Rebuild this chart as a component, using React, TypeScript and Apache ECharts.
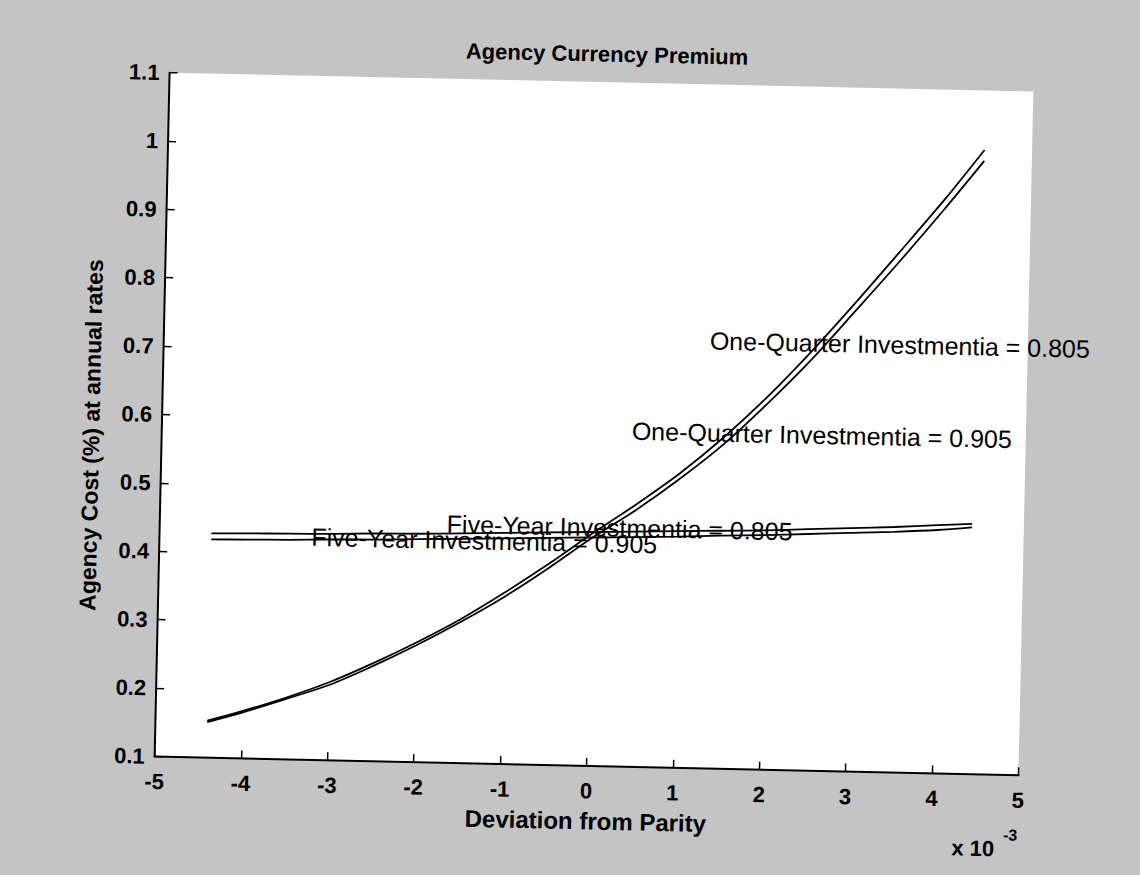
import React, { useEffect, useRef } from "react";
import * as echarts from "echarts";

// Deviation from parity (x 10^-3)
const quarterDeviation = [-4.4, -4, -3.5, -3, -2.5, -2, -1.5, -1, -0.5, 0, 0.5, 1, 1.5, 2, 2.5, 3, 3.5, 4, 4.45];
const fiveYearDeviation = [-4.4, -4, -3.5, -3, -2.5, -2, -1.5, -1, -0.5, 0, 0.5, 1, 1.5, 2, 2.5, 3, 3.5, 4, 4.4];

// Agency cost (%) at annual rates
const oneQuarter0805 = [0.154, 0.169, 0.19, 0.214, 0.243, 0.275, 0.31, 0.35, 0.393, 0.439, 0.483, 0.53, 0.584, 0.645, 0.713, 0.786, 0.862, 0.939, 1.013];
const oneQuarter0905 = [0.152, 0.167, 0.188, 0.21, 0.239, 0.271, 0.306, 0.344, 0.387, 0.433, 0.475, 0.522, 0.574, 0.635, 0.701, 0.774, 0.848, 0.925, 0.997];
const fiveYear0805 = [0.428, 0.429, 0.43, 0.431, 0.433, 0.434, 0.436, 0.438, 0.44, 0.442, 0.444, 0.446, 0.448, 0.45, 0.453, 0.456, 0.459, 0.463, 0.466];
const fiveYear0905 = [0.419, 0.42, 0.421, 0.423, 0.424, 0.426, 0.428, 0.43, 0.432, 0.434, 0.436, 0.438, 0.441, 0.443, 0.446, 0.449, 0.452, 0.456, 0.461];

const xTickValues = [-5, -4, -3, -2, -1, 0, 1, 2, 3, 4, 5];
const yTickValues = [0.1, 0.2, 0.3, 0.4, 0.5, 0.6, 0.7, 0.8, 0.9, 1, 1.1];

const chartTitle = "Agency Currency Premium";
const xAxisTitle = "Deviation from Parity";
const yAxisTitle = "Agency Cost (%) at annual rates";
const xMultiplierBase = "x 10";
const xMultiplierExp = "-3";
const curveLabels = [
  "One-Quarter Investmentia = 0.805",
  "One-Quarter Investmentia = 0.905",
  "Five-Year Investmentia = 0.805",
  "Five-Year Investmentia = 0.905",
];

export default function App() {
  const ref = useRef<HTMLDivElement>(null);

  useEffect(() => {
    if (!ref.current) return;
    const chart = echarts.init(ref.current, null, { renderer: "svg" });
    const font = "'Liberation Sans', Arial, Helvetica, sans-serif";
    const lineSeries = (name: string, xs: number[], ys: number[]) => ({
      name,
      type: "line",
      data: xs.map((x, i) => [x, ys[i]]),
      symbol: "none",
      showSymbol: false,
      smooth: 0.3,
      silent: true,
      lineStyle: { color: "#000", width: 1.8 },
      z: 3,
    });

    const labelPos = [
      [708, 338],
      [632, 430],
      [449, 527],
      [314, 543],
    ];

    chart.setOption({
      animation: false,
      backgroundColor: "#c4c4c4",
      title: {
        text: chartTitle,
        left: 594,
        top: 38,
        textAlign: "center",
        textStyle: { fontSize: 22, fontWeight: "bold", color: "#000", fontFamily: font },
      },
      grid: {
        left: 162,
        top: 82,
        width: 864,
        height: 684,
        show: true,
        backgroundColor: "#ffffff",
        borderWidth: 0,
        borderColor: "transparent",
        containLabel: false,
        outerBoundsMode: "none",
      },
      xAxis: {
        type: "value",
        min: xTickValues[0],
        max: xTickValues[xTickValues.length - 1],
        interval: 1,
        splitLine: { show: false },
        axisLine: { show: true, onZero: false, lineStyle: { color: "#000", width: 2 } },
        axisTick: { show: true, inside: true, length: 8, lineStyle: { color: "#000", width: 1.5 } },
        axisLabel: {
          color: "#000",
          fontSize: 22,
          fontWeight: "bold",
          fontFamily: font,
          margin: 14,
          formatter: (v: number) => String(Math.round(v)),
        },
        name: xAxisTitle,
        nameLocation: "middle",
        nameGap: 43,
        nameTextStyle: { color: "#000", fontSize: 24, fontWeight: "bold", fontFamily: font },
      },
      yAxis: {
        type: "value",
        min: yTickValues[0],
        max: yTickValues[yTickValues.length - 1],
        interval: 0.1,
        splitLine: { show: false },
        axisLine: { show: true, onZero: false, lineStyle: { color: "#000", width: 2 } },
        axisTick: { show: true, inside: true, length: 8, lineStyle: { color: "#000", width: 1.5 } },
        axisLabel: {
          color: "#000",
          fontSize: 22,
          fontWeight: "bold",
          fontFamily: font,
          margin: 10,
          formatter: (v: number) => String(Math.round(v * 10) / 10),
        },
        name: yAxisTitle,
        nameLocation: "middle",
        nameGap: 59,
        nameTextStyle: {
          color: "#000",
          fontSize: 23,
          fontWeight: "bold",
          fontFamily: font,
          padding: [0, 44, 0, 0],
        },
      },
      series: [
        lineSeries(curveLabels[0], quarterDeviation, oneQuarter0805),
        lineSeries(curveLabels[1], quarterDeviation, oneQuarter0905),
        lineSeries(curveLabels[2], fiveYearDeviation, fiveYear0805),
        lineSeries(curveLabels[3], fiveYearDeviation, fiveYear0905),
      ],
      graphic: [
        ...curveLabels.map((t, i) => ({
          type: "text",
          x: labelPos[i][0],
          y: labelPos[i][1],
          z: 100,
          silent: true,
          style: {
            text: t,
            fill: "#000",
            fontSize: 25,
            fontFamily: font,
            align: "left",
            verticalAlign: "middle",
          },
        })),
        {
          type: "text",
          x: 982,
          y: 840,
          z: 100,
          silent: true,
          style: {
            text: xMultiplierBase,
            fill: "#000",
            fontSize: 22,
            fontWeight: "bold",
            fontFamily: font,
            align: "center",
            verticalAlign: "middle",
          },
        },
        {
          type: "text",
          x: 1012,
          y: 826,
          z: 100,
          silent: true,
          style: {
            text: xMultiplierExp,
            fill: "#000",
            fontSize: 16,
            fontWeight: "bold",
            fontFamily: font,
            align: "left",
            verticalAlign: "middle",
          },
        },
      ],
    });

    return () => chart.dispose();
  }, []);

  return (
    <div
      style={{
        position: "fixed",
        left: 0,
        top: 0,
        width: 1140,
        height: 875,
        overflow: "hidden",
        background: "#c4c4c4",
      }}
    >
      <div
        ref={ref}
        style={{
          position: "absolute",
          left: 0,
          top: 0,
          width: 1140,
          height: 875,
          transform: "rotate(1.25deg)",
          transformOrigin: "595px 424px",
        }}
      />
    </div>
  );
}
